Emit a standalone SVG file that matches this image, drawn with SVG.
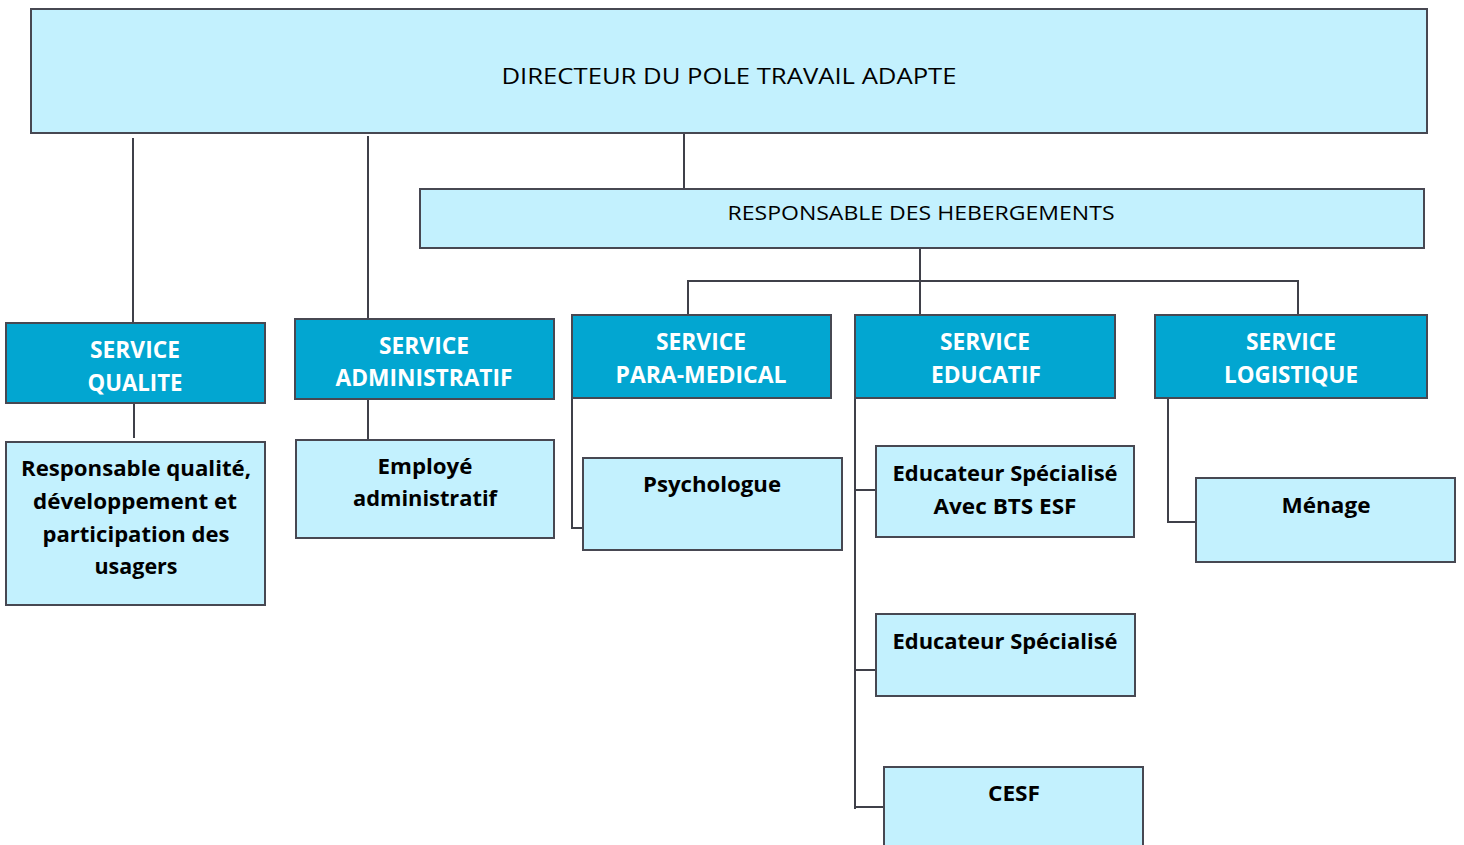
<svg xmlns="http://www.w3.org/2000/svg" width="1464" height="845" viewBox="0 0 1464 845">
  <style>
    .light { fill: #c3f1fe; stroke: #474852; stroke-width: 2; }
    .dark { fill: #02a6d1; stroke: #474852; stroke-width: 2; }
    .conn { fill: none; stroke: #3f4049; stroke-width: 2; }
    text { font-family: "Open Sans", "Noto Sans", sans-serif; text-anchor: middle; }
    .reg { font-size: 22px; fill: #000; }
    .reg2 { font-size: 20px; fill: #000; }
    .hd { font-size: 23px; font-weight: bold; fill: #fff; }
    .bd { font-size: 22px; font-weight: bold; fill: #000; }
  </style>
  <rect width="1464" height="845" fill="#fff"/>

  <!-- connectors -->
  <g id="connectors">
    <path class="conn" d="M133 138 V323"/>
    <path class="conn" d="M368 136 V319"/>
    <path class="conn" d="M684 133 V189"/>
    <path class="conn" d="M920 248 V315"/>
    <path class="conn" d="M688 315 V281 H1298 V315"/>
    <path class="conn" d="M134 403 V438"/>
    <path class="conn" d="M368 399 V440"/>
    <path class="conn" d="M572 398 V528 H583"/>
    <path class="conn" d="M855 398 V809"/>
    <path class="conn" d="M855 490 H876"/>
    <path class="conn" d="M855 670 H876"/>
    <path class="conn" d="M855 807 H884"/>
    <path class="conn" d="M1168 398 V522 H1196"/>
  </g>

  <g id="directeur">
    <rect class="light" x="31" y="9" width="1396" height="124"/>
    <text class="reg" x="729" y="84" textLength="455" lengthAdjust="spacingAndGlyphs">DIRECTEUR DU POLE TRAVAIL ADAPTE</text>
  </g>

  <g id="responsable-hebergements">
    <rect class="light" x="420" y="189" width="1004" height="59"/>
    <text class="reg2" x="921" y="220" textLength="387" lengthAdjust="spacingAndGlyphs">RESPONSABLE DES HEBERGEMENTS</text>
  </g>

  <g id="service-qualite">
    <rect class="dark" x="6" y="323" width="259" height="80"/>
    <text class="hd" x="135" y="358" textLength="90" lengthAdjust="spacingAndGlyphs">SERVICE</text>
    <text class="hd" x="135" y="391" textLength="95" lengthAdjust="spacingAndGlyphs">QUALITE</text>
  </g>

  <g id="responsable-qualite">
    <rect class="light" x="6" y="442" width="259" height="163"/>
    <text class="bd" x="136" y="476" textLength="230" lengthAdjust="spacingAndGlyphs">Responsable qualité,</text>
    <text class="bd" x="135" y="509" textLength="204" lengthAdjust="spacingAndGlyphs">développement et</text>
    <text class="bd" x="136" y="542" textLength="187" lengthAdjust="spacingAndGlyphs">participation des</text>
    <text class="bd" x="136" y="574" textLength="83" lengthAdjust="spacingAndGlyphs">usagers</text>
  </g>

  <g id="service-administratif">
    <rect class="dark" x="295" y="319" width="259" height="80"/>
    <text class="hd" x="424" y="354" textLength="90" lengthAdjust="spacingAndGlyphs">SERVICE</text>
    <text class="hd" x="424" y="386" textLength="177" lengthAdjust="spacingAndGlyphs">ADMINISTRATIF</text>
  </g>

  <g id="employe-administratif">
    <rect class="light" x="296" y="440" width="258" height="98"/>
    <text class="bd" x="425" y="474" textLength="95" lengthAdjust="spacingAndGlyphs">Employé</text>
    <text class="bd" x="425" y="506" textLength="144" lengthAdjust="spacingAndGlyphs">administratif</text>
  </g>

  <g id="service-para-medical">
    <rect class="dark" x="572" y="315" width="259" height="83"/>
    <text class="hd" x="701" y="350" textLength="90" lengthAdjust="spacingAndGlyphs">SERVICE</text>
    <text class="hd" x="701" y="383" textLength="171" lengthAdjust="spacingAndGlyphs">PARA-MEDICAL</text>
  </g>

  <g id="psychologue">
    <rect class="light" x="583" y="458" width="259" height="92"/>
    <text class="bd" x="712" y="492" textLength="138" lengthAdjust="spacingAndGlyphs">Psychologue</text>
  </g>

  <g id="service-educatif">
    <rect class="dark" x="855" y="315" width="260" height="83"/>
    <text class="hd" x="985" y="350" textLength="90" lengthAdjust="spacingAndGlyphs">SERVICE</text>
    <text class="hd" x="986" y="383" textLength="110" lengthAdjust="spacingAndGlyphs">EDUCATIF</text>
  </g>

  <g id="educateur-bts-esf">
    <rect class="light" x="876" y="446" width="258" height="91"/>
    <text class="bd" x="1005" y="481" textLength="225" lengthAdjust="spacingAndGlyphs">Educateur Spécialisé</text>
    <text class="bd" x="1005" y="514" textLength="143" lengthAdjust="spacingAndGlyphs">Avec BTS ESF</text>
  </g>

  <g id="educateur-specialise">
    <rect class="light" x="876" y="614" width="259" height="82"/>
    <text class="bd" x="1005" y="649" textLength="225" lengthAdjust="spacingAndGlyphs">Educateur Spécialisé</text>
  </g>

  <g id="cesf">
    <rect class="light" x="884" y="767" width="259" height="90"/>
    <text class="bd" x="1014" y="801" textLength="52" lengthAdjust="spacingAndGlyphs">CESF</text>
  </g>

  <g id="service-logistique">
    <rect class="dark" x="1155" y="315" width="272" height="83"/>
    <text class="hd" x="1291" y="350" textLength="90" lengthAdjust="spacingAndGlyphs">SERVICE</text>
    <text class="hd" x="1291" y="383" textLength="134" lengthAdjust="spacingAndGlyphs">LOGISTIQUE</text>
  </g>

  <g id="menage">
    <rect class="light" x="1196" y="478" width="259" height="84"/>
    <text class="bd" x="1326" y="513" textLength="89" lengthAdjust="spacingAndGlyphs">Ménage</text>
  </g>
</svg>
